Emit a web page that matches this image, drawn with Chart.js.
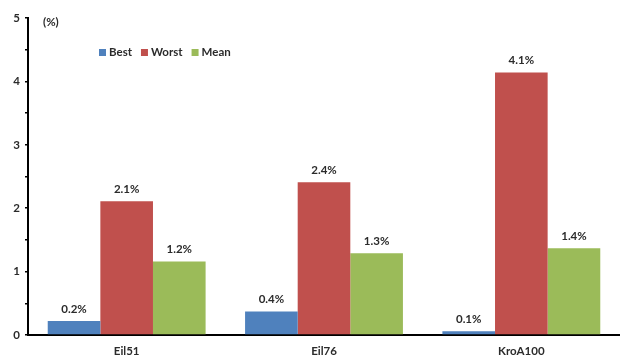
<!DOCTYPE html>
<html>
<head>
<meta charset="utf-8">
<script src="https://cdn.jsdelivr.net/npm/chart.js@4/dist/chart.umd.min.js"></script>
<style>
  html, body { margin: 0; padding: 0; background: #fff; }
  #wrap { width: 620px; height: 356px; position: relative; }
</style>
</head>
<body>
<div id="wrap"><canvas id="c" width="620" height="356"></canvas></div>
<script>
// Relative error (%) of the algorithm on three TSP instances
const instances = ['Eil51', 'Eil76', 'KroA100'];
const seriesNames = ['Best', 'Worst', 'Mean'];
const bestValues  = [0.22, 0.37, 0.06];
const worstValues = [2.11, 2.41, 4.14];
const meanValues  = [1.16, 1.29, 1.37];
const yTicks = [0, 1, 2, 3, 4, 5];

const colors = ['#4F81BD', '#C0504D', '#9BBB59'];
const FONT = 'Lato, Calibri, "Liberation Sans", sans-serif';
const TEXT = '#2b2b2b';

const fmt = v => v.toFixed(1) + '%';

// Value labels above each bar, the "(%)" unit and the legend row
const overlay = {
  id: 'overlay',
  afterDatasetsDraw(chart) {
    const ctx = chart.ctx;
    ctx.save();
    ctx.font = 'bold 11.5px ' + FONT;
    ctx.fillStyle = TEXT;
    ctx.textAlign = 'center';
    ctx.textBaseline = 'middle';
    chart.data.datasets.forEach((ds, i) => {
      chart.getDatasetMeta(i).data.forEach((bar, j) => {
        ctx.fillText(fmt(ds.data[j]), bar.x, bar.y - 12);
      });
    });

    // unit label next to the top of the value axis
    ctx.textAlign = 'left';
    ctx.fillText('(%)', 43, 22);

    // legend
    let x = 99;
    const y = 52;
    chart.data.datasets.forEach(ds => {
      ctx.fillStyle = ds.backgroundColor;
      ctx.fillRect(x, y - 3, 7, 7);
      ctx.fillStyle = TEXT;
      ctx.fillText(ds.label, x + 10, y);
      x += 10 + ctx.measureText(ds.label).width + 9;
    });
    ctx.restore();
  }
};

new Chart(document.getElementById('c'), {
  type: 'bar',
  data: {
    labels: instances,
    datasets: [
      { label: seriesNames[0], data: bestValues,  backgroundColor: colors[0] },
      { label: seriesNames[1], data: worstValues, backgroundColor: colors[1] },
      { label: seriesNames[2], data: meanValues,  backgroundColor: colors[2] }
    ]
  },
  options: {
    responsive: false,
    animation: false,
    devicePixelRatio: 1,
    layout: { padding: { top: 18, right: 0, bottom: 0, left: 0 } },
    datasets: { bar: { categoryPercentage: 0.8, barPercentage: 1.0, borderWidth: 0 } },
    plugins: { legend: { display: false }, tooltip: { enabled: false } },
    scales: {
      x: {
        grid: { display: false, drawTicks: false },
        border: { display: true, color: '#000', width: 2 },
        ticks: { color: TEXT, font: { family: FONT, size: 11.5, weight: 'bold' }, padding: 9 },
        afterFit(scale) { scale.height = 21; }
      },
      y: {
        min: yTicks[0],
        max: yTicks[yTicks.length - 1],
        grid: { drawOnChartArea: false, drawTicks: true, tickLength: 3, color: '#000', lineWidth: 1.5 },
        border: { display: true, color: '#000', width: 2 },
        ticks: {
          stepSize: 0.5,
          autoSkip: false,
          padding: 5,
          color: TEXT,
          font: { family: FONT, size: 11.5, weight: 'bold' },
          callback: v => (yTicks.includes(v) ? String(v) : '')
        },
        afterFit(scale) { scale.width = 28; }
      }
    }
  },
  plugins: [overlay]
});
</script>
</body>
</html>
